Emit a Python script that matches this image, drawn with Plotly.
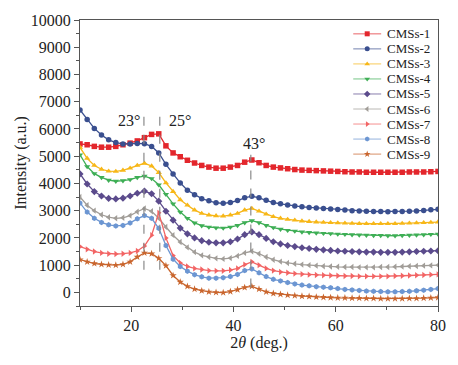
import plotly.graph_objects as go

two_theta = [10, 11.4, 12.8, 14.2, 15.6, 17, 18.4, 19.8, 21.2, 22.6, 24, 25.4, 26.8, 28.2, 29.6,
             31, 32.4, 33.8, 35.2, 36.6, 38, 39.4, 40.8, 42.2, 43.6, 45, 46.4, 47.8, 49.2, 50.6,
             52, 53.4, 54.8, 56.2, 57.6, 59, 60.4, 61.8, 63.2, 64.6, 66, 67.4, 68.8, 70.2, 71.6,
             73, 74.4, 75.8, 77.2, 78.6, 80]

cms1 = [5.45, 5.42, 5.36, 5.33, 5.33, 5.36, 5.42, 5.48, 5.56, 5.68, 5.80, 5.82, 5.38, 5.12, 4.98,
        4.85, 4.75, 4.66, 4.60, 4.56, 4.56, 4.60, 4.66, 4.78, 4.86, 4.76, 4.66, 4.60, 4.57, 4.54,
        4.51, 4.49, 4.48, 4.47, 4.46, 4.45, 4.44, 4.43, 4.42, 4.42, 4.41, 4.41, 4.41, 4.41, 4.41,
        4.41, 4.42, 4.42, 4.42, 4.43, 4.44]
cms2 = [6.70, 6.35, 6.02, 5.78, 5.60, 5.50, 5.45, 5.45, 5.47, 5.46, 5.36, 5.12, 4.70, 4.35, 4.02,
        3.75, 3.58, 3.44, 3.36, 3.29, 3.27, 3.30, 3.37, 3.47, 3.53, 3.47, 3.38, 3.30, 3.25, 3.21,
        3.17, 3.14, 3.12, 3.10, 3.08, 3.06, 3.04, 3.02, 3.00, 2.99, 2.98, 2.97, 2.97, 2.96, 2.97,
        2.97, 2.98, 2.99, 3.01, 3.03, 3.05]
cms3 = [5.32, 4.92, 4.66, 4.52, 4.45, 4.44, 4.48, 4.56, 4.66, 4.74, 4.64, 4.40, 4.02, 3.70, 3.40,
        3.20, 3.02, 2.90, 2.84, 2.81, 2.80, 2.84, 2.90, 3.02, 3.08, 2.98, 2.87, 2.78, 2.72, 2.68,
        2.65, 2.62, 2.60, 2.58, 2.57, 2.56, 2.55, 2.54, 2.53, 2.52, 2.52, 2.52, 2.52, 2.52, 2.52,
        2.53, 2.54, 2.55, 2.56, 2.57, 2.58]
cms4 = [5.05, 4.62, 4.36, 4.22, 4.12, 4.08, 4.10, 4.14, 4.22, 4.27, 4.18, 3.95, 3.60, 3.25, 2.95,
        2.72, 2.55, 2.45, 2.40, 2.37, 2.36, 2.40, 2.46, 2.56, 2.63, 2.56, 2.46, 2.38, 2.32, 2.28,
        2.25, 2.22, 2.20, 2.18, 2.17, 2.16, 2.14, 2.13, 2.12, 2.11, 2.10, 2.09, 2.09, 2.08, 2.08,
        2.09, 2.10, 2.11, 2.12, 2.13, 2.14]
cms5 = [4.35, 3.98, 3.70, 3.54, 3.45, 3.43, 3.46, 3.54, 3.64, 3.72, 3.62, 3.35, 2.98, 2.65, 2.36,
        2.15, 2.00, 1.90, 1.84, 1.82, 1.82, 1.86, 1.96, 2.12, 2.22, 2.12, 1.98, 1.86, 1.78, 1.72,
        1.68, 1.64, 1.61, 1.58, 1.56, 1.54, 1.52, 1.51, 1.50, 1.49, 1.48, 1.48, 1.47, 1.47, 1.47,
        1.48, 1.49, 1.50, 1.51, 1.52, 1.53]
cms6 = [3.50, 3.20, 3.00, 2.85, 2.76, 2.72, 2.74, 2.82, 2.96, 3.08, 2.98, 2.72, 2.40, 2.10, 1.85,
        1.65, 1.48, 1.36, 1.30, 1.25, 1.23, 1.26, 1.34, 1.45, 1.51, 1.42, 1.30, 1.20, 1.13, 1.08,
        1.05, 1.02, 1.00, 0.98, 0.96, 0.95, 0.94, 0.93, 0.93, 0.92, 0.92, 0.92, 0.93, 0.93, 0.94,
        0.95, 0.96, 0.97, 0.98, 0.99, 1.00]
cms7 = [1.68, 1.58, 1.50, 1.45, 1.42, 1.41, 1.42, 1.45, 1.52, 1.70, 2.10, 2.92, 2.00, 1.35, 1.08,
        0.95, 0.88, 0.84, 0.80, 0.79, 0.79, 0.82, 0.88, 1.02, 1.12, 1.00, 0.88, 0.80, 0.75, 0.72,
        0.69, 0.67, 0.65, 0.64, 0.63, 0.62, 0.61, 0.60, 0.60, 0.59, 0.59, 0.59, 0.59, 0.59, 0.60,
        0.61, 0.62, 0.63, 0.64, 0.65, 0.66]
cms8 = [3.28, 2.95, 2.72, 2.57, 2.48, 2.44, 2.46, 2.55, 2.70, 2.82, 2.72, 2.35, 1.72, 1.22, 0.95,
        0.78, 0.65, 0.57, 0.52, 0.52, 0.54, 0.58, 0.66, 0.80, 0.86, 0.72, 0.58, 0.48, 0.42, 0.36,
        0.31, 0.27, 0.24, 0.21, 0.19, 0.17, 0.14, 0.11, 0.09, 0.07, 0.05, 0.04, 0.03, 0.02, 0.02,
        0.03, 0.04, 0.06, 0.08, 0.11, 0.14]
cms9 = [1.20, 1.12, 1.06, 1.03, 1.01, 1.00, 1.03, 1.12, 1.30, 1.45, 1.42, 1.25, 0.98, 0.62, 0.38,
        0.22, 0.12, 0.06, 0.02, 0.00, -0.01, 0.03, 0.10, 0.18, 0.22, 0.12, 0.02, -0.04, -0.07, -0.10,
        -0.12, -0.14, -0.15, -0.17, -0.18, -0.19, -0.20, -0.20, -0.21, -0.21, -0.22, -0.22, -0.23, -0.23, -0.23,
        -0.23, -0.22, -0.22, -0.21, -0.20, -0.19]

series_names = ["CMSs-1", "CMSs-2", "CMSs-3", "CMSs-4", "CMSs-5", "CMSs-6", "CMSs-7", "CMSs-8", "CMSs-9"]
series_values = [cms1, cms2, cms3, cms4, cms5, cms6, cms7, cms8, cms9]
colors = ["#e3262c", "#3a4f8f", "#f7b718", "#3eae55", "#5b4b8c", "#a19d98", "#f26464", "#6c96d2", "#c9652d"]
symbols = ["square", "circle", "triangle-up", "triangle-down", "diamond", "triangle-left",
           "triangle-right", "hexagon", "star"]

y_tick_vals = list(range(0, 10001, 1000))
y_tick_text = [str(v) for v in y_tick_vals]
x_tick_vals = [20, 40, 60, 80]
x_minor_vals = [10, 30, 50, 70]

peak_positions = [22.5, 25.6, 43.4]
peak_labels = ["23°", "25°", "43°"]
peak_tops = [6700, 6700, 5050]
peak_bottoms = [830, 830, 180]
label_pos = [(19.5, 6300), (29.5, 6300), (44.0, 5450)]

FONT = "Liberation Serif"
W, H = 458, 365
ML, MR, MT, MB = 80, 19, 16, 59
plot_w, plot_h = W - ML - MR, H - MT - MB

fig = go.Figure()
for name, vals, col, sym in zip(series_names, series_values, colors, symbols):
    fig.add_trace(go.Scatter(
        x=two_theta, y=[v * 1000 for v in vals], name=name, mode="lines+markers",
        line=dict(color=col, width=1.3),
        marker=dict(symbol=sym, size=5.5, color=col, line=dict(width=0)),
        showlegend=False,
    ))

for px, top, bot in zip(peak_positions, peak_tops, peak_bottoms):
    fig.add_shape(type="line", x0=px, x1=px, y0=bot, y1=top, xref="x", yref="y",
                  line=dict(color="#8a8a8a", width=1.2, dash="dash"))

for (lx, ly), txt in zip(label_pos, peak_labels):
    fig.add_annotation(x=lx, y=ly, text=txt, showarrow=False,
                       font=dict(family=FONT, size=16, color="#222"))

# custom compact legend (glyphs drawn on an overlay axis with a fixed 0..1 range)
leg_x0 = (354 - ML) / plot_w
leg_xm = (368 - ML) / plot_w
leg_x1 = (382 - ML) / plot_w
leg_xt = (386 - ML) / plot_w
for i, (name, col, sym) in enumerate(zip(series_names, colors, symbols)):
    yy = 1 - (30 + 15.25 * i - MT) / plot_h
    fig.add_trace(go.Scatter(
        x=[leg_x0, leg_x1], y=[yy, yy], xaxis="x2", yaxis="y2", mode="lines",
        line=dict(color=col, width=1.3), opacity=0.55, showlegend=False, hoverinfo="skip"))
    fig.add_trace(go.Scatter(
        x=[leg_xm], y=[yy], xaxis="x2", yaxis="y2", mode="markers",
        marker=dict(symbol=sym, size=5, color=col, line=dict(width=0)),
        showlegend=False, hoverinfo="skip"))
    fig.add_annotation(x=leg_xt, y=yy, xref="paper", yref="paper", text=name, showarrow=False,
                       xanchor="left", yanchor="middle",
                       font=dict(family=FONT, size=13, color="#222"))

axis_common = dict(showline=True, linecolor="#555", linewidth=1.2, mirror=True,
                   ticks="outside", ticklen=5, tickcolor="#555", showgrid=False, zeroline=False,
                   tickfont=dict(family=FONT, size=16, color="#222"))

fig.update_layout(
    width=W, height=H,
    margin=dict(l=ML, r=MR, t=MT, b=MB),
    plot_bgcolor="white", paper_bgcolor="white",
    showlegend=False,
    xaxis=dict(range=[10, 80], tickvals=x_tick_vals,
               minor=dict(tickvals=x_minor_vals, ticks="outside", ticklen=3, tickcolor="#555"),
               title=dict(text="2<i>θ</i> (deg.)", font=dict(family=FONT, size=16, color="#222"),
                          standoff=1),
               **axis_common),
    yaxis=dict(range=[-500, 10000], tickvals=y_tick_vals, ticktext=y_tick_text,
               minor=dict(dtick=500, ticks="outside", ticklen=3, tickcolor="#555"),
               title=dict(text="Intensity (a.u.)", font=dict(family=FONT, size=16, color="#222"),
                          standoff=0),
               **axis_common),
    xaxis2=dict(overlaying="x", range=[0, 1], visible=False, anchor="y2"),
    yaxis2=dict(overlaying="y", range=[0, 1], visible=False, anchor="x2"),
)

fig.write_html("out.html", config={"displayModeBar": False},
               post_script="document.body.style.margin='0';document.body.style.overflow='hidden';")
